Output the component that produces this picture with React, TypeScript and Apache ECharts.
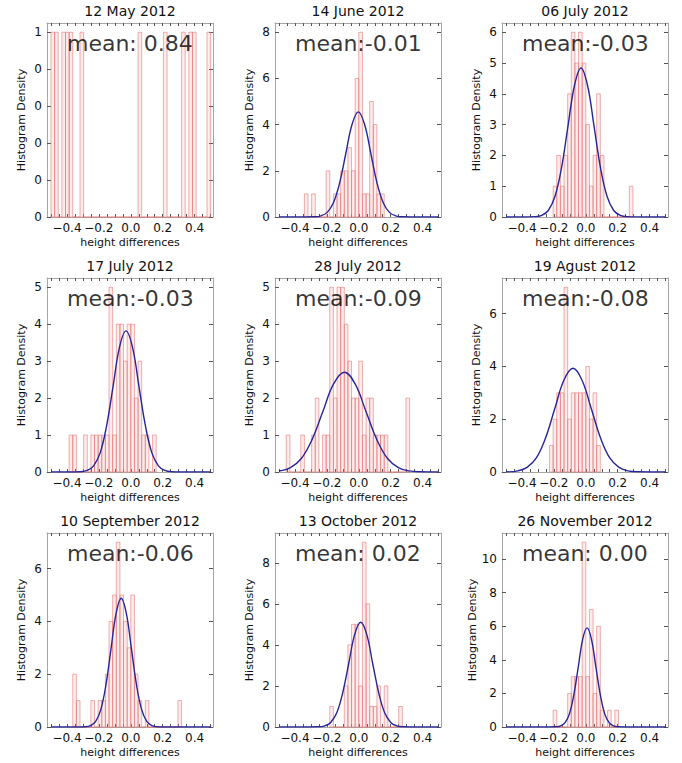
import React, { useEffect, useRef } from "react";
import * as echarts from "echarts";

// ---------------- data ----------------
const panelTitles = [
  "12 May 2012", "14 June 2012", "06 July 2012",
  "17 July 2012", "28 July 2012", "19 Agust 2012",
  "10 September 2012", "13 October 2012", "26 November 2012",
];
const meanTexts = [
  "mean: 0.84", "mean:-0.01", "mean:-0.03",
  "mean:-0.03", "mean:-0.09", "mean:-0.08",
  "mean:-0.06", "mean: 0.02", "mean: 0.00",
];

// histogram bin grid
const binOrigin = -0.5;
const binWidth = 1 / 44;

// first bin index of each histogram, then counts per bin
const firstBins = [0, 7, 13, 5, 2, 12, 6, 14, 13];
const countsMay12 = [1, 1, 0, 1, 1, 1, 0, 0, 1, 0, 0, 0, 0, 0, 0, 0, 0, 0, 0, 0, 0, 0, 0, 0, 1, 0, 0, 0, 0, 0, 0, 1, 0, 0, 0, 0, 1, 0, 1, 1, 0, 0, 0, 1];
const countsJun14 = [1, 0, 1, 0, 0, 0, 2, 0, 1, 1, 2, 2, 3, 2, 6, 8, 1, 1, 5, 4, 1, 1];
const countsJul06 = [1, 2, 1, 2, 4, 6, 5, 6, 5, 3, 1, 2, 4, 2, 0, 0, 0, 0, 0, 0, 0, 1];
const countsJul17 = [1, 1, 0, 0, 1, 0, 1, 1, 1, 1, 1, 5, 1, 4, 4, 3, 4, 4, 2, 3, 1, 1, 0, 1];
const countsJul28 = [1, 0, 0, 0, 1, 0, 0, 1, 2, 0, 1, 1, 5, 2, 5, 5, 4, 3, 2, 2, 3, 1, 2, 2, 1, 1, 1, 1, 0, 0, 0, 0, 0, 2];
const countsAug19 = [1, 2, 3, 3, 7, 2, 3, 3, 3, 3, 4, 2, 3, 1];
const countsSep10 = [2, 1, 0, 0, 0, 1, 0, 1, 1, 2, 4, 5, 7, 5, 4, 3, 5, 2, 1, 0, 1, 0, 0, 0, 0, 0, 0, 0, 0, 1];
const countsOct13 = [1, 0, 0, 0, 2, 4, 5, 5, 2, 9, 6, 1, 1, 2, 0, 2, 0, 0, 0, 1];
const countsNov26 = [1, 0, 0, 0, 2, 3, 3, 3, 11, 3, 7, 2, 6, 1, 0, 1, 0, 1];
const allCounts = [countsMay12, countsJun14, countsJul06, countsJul17, countsJul28, countsAug19, countsSep10, countsOct13, countsNov26];

// fitted curves, points [x, y]
const curveMay12: number[][] = [];
const curveJun14 = [[-0.5, 0], [-0.4, 0], [-0.276, 0.01], [-0.237, 0.051], [-0.198, 0.2], [-0.159, 0.616], [-0.12, 1.477], [-0.081, 2.76], [-0.042, 4.015], [-0.003, 4.55], [0.036, 4.015], [0.075, 2.76], [0.114, 1.477], [0.153, 0.616], [0.192, 0.2], [0.231, 0.051], [0.27, 0.01], [0.4, 0], [0.5, 0]];
const curveJul06 = [[-0.5, 0], [-0.4, 0], [-0.317, 0.011], [-0.276, 0.054], [-0.235, 0.212], [-0.194, 0.655], [-0.153, 1.572], [-0.112, 2.935], [-0.071, 4.271], [-0.03, 4.84], [0.011, 4.271], [0.052, 2.935], [0.093, 1.572], [0.134, 0.655], [0.175, 0.212], [0.216, 0.054], [0.257, 0.011], [0.4, 0], [0.5, 0]];
const curveJul17 = [[-0.5, 0], [-0.4, 0], [-0.314, 0.008], [-0.273, 0.042], [-0.233, 0.168], [-0.192, 0.517], [-0.152, 1.24], [-0.111, 2.317], [-0.071, 3.371], [-0.03, 3.82], [0.011, 3.371], [0.051, 2.317], [0.092, 1.24], [0.132, 0.517], [0.173, 0.168], [0.213, 0.042], [0.254, 0.008], [0.4, 0], [0.5, 0]];
const curveJul28 = [[-0.5, 0.027], [-0.428, 0.119], [-0.36, 0.365], [-0.293, 0.877], [-0.225, 1.638], [-0.158, 2.383], [-0.09, 2.7], [-0.023, 2.383], [0.045, 1.638], [0.113, 0.877], [0.18, 0.365], [0.248, 0.119], [0.315, 0.03], [0.383, 0.006], [0.5, 0]];
const curveAug19 = [[-0.5, 0.005], [-0.425, 0.044], [-0.368, 0.173], [-0.31, 0.532], [-0.253, 1.276], [-0.195, 2.384], [-0.138, 3.468], [-0.08, 3.93], [-0.023, 3.468], [0.035, 2.384], [0.093, 1.276], [0.15, 0.532], [0.208, 0.173], [0.265, 0.044], [0.323, 0.009], [0.5, 0]];
const curveSep10 = [[-0.5, 0], [-0.4, 0], [-0.284, 0.011], [-0.252, 0.054], [-0.22, 0.214], [-0.188, 0.66], [-0.156, 1.585], [-0.124, 2.96], [-0.092, 4.307], [-0.06, 4.88], [-0.028, 4.307], [0.004, 2.96], [0.036, 1.585], [0.068, 0.66], [0.1, 0.214], [0.132, 0.054], [0.164, 0.011], [0.3, 0], [0.5, 0]];
const curveOct13 = [[-0.5, 0], [-0.4, 0], [-0.251, 0.011], [-0.213, 0.057], [-0.176, 0.224], [-0.138, 0.69], [-0.101, 1.656], [-0.063, 3.093], [-0.026, 4.501], [0.012, 5.1], [0.05, 4.501], [0.087, 3.093], [0.125, 1.656], [0.162, 0.69], [0.2, 0.224], [0.237, 0.057], [0.275, 0.011], [0.4, 0], [0.5, 0]];
const curveNov26 = [[-0.5, 0], [-0.3, 0], [-0.185, 0.013], [-0.157, 0.065], [-0.13, 0.259], [-0.102, 0.798], [-0.075, 1.916], [-0.047, 3.578], [-0.02, 5.207], [0.008, 5.9], [0.036, 5.207], [0.063, 3.578], [0.091, 1.916], [0.118, 0.798], [0.146, 0.259], [0.173, 0.065], [0.201, 0.013], [0.3, 0], [0.5, 0]];
const allCurves = [curveMay12, curveJun14, curveJul06, curveJul17, curveJul28, curveAug19, curveSep10, curveOct13, curveNov26];

// axis ticks
const xTickLabels = [-0.4, -0.2, 0, 0.2, 0.4];
const xTickMarks = [-0.5, -0.45, -0.4, -0.35, -0.3, -0.25, -0.2, -0.15, -0.1, -0.05, 0, 0.05, 0.1, 0.15, 0.2, 0.25, 0.3, 0.35, 0.4, 0.45, 0.5];
const yTickSteps = [0.2, 2, 1, 1, 1, 2, 2, 2, 2];
const meanLabelX = -0.4;

// ---------------- layout ----------------
const X_MIN = -0.525;
const X_MAX = 0.515;
const colLeft = [47, 275, 502];
const rowTop = [23, 278, 533];
const plotW = 166;
const plotH = 194;
const FONT = "DejaVu Sans";

const fmtX = (v: number) => (v < -1e-9 ? "\u2212" : "") + Math.abs(v).toFixed(1);

function buildOption() {
  const grids: any[] = [];
  const xAxes: any[] = [];
  const yAxes: any[] = [];
  const series: any[] = [];
  const graphics: any[] = [];

  for (let i = 0; i < 9; i++) {
    const r = Math.floor(i / 3);
    const c = i % 3;
    const counts = allCounts[i];
    const maxCount = Math.max(...counts);
    const yMax = maxCount * 1.05;
    const step = yTickSteps[i];
    const yTicks: number[] = [];
    for (let v = 0; v <= maxCount + 1e-9; v += step) yTicks.push(Math.round(v * 1000) / 1000);

    grids.push({ left: colLeft[c], top: rowTop[r], width: plotW, height: plotH, containLabel: false });

    const frameLine = { show: true, onZero: false, lineStyle: { color: "#a6a6a6", width: 1 } };
    const tickStyle = { color: "#555", width: 1 };

    xAxes.push({
      type: "value", gridIndex: i, min: X_MIN, max: X_MAX, position: "bottom",
      axisLine: frameLine,
      axisTick: { show: true, inside: true, length: 3, customValues: xTickMarks, lineStyle: tickStyle },
      axisLabel: { show: true, customValues: xTickLabels, formatter: fmtX, fontSize: 12, color: "#111", margin: 5, fontFamily: FONT },
      splitLine: { show: false },
      name: "height differences", nameLocation: "middle", nameGap: 20,
      nameTextStyle: { fontSize: 11, color: "#111", fontFamily: FONT },
    });
    xAxes.push({
      type: "value", gridIndex: i, min: X_MIN, max: X_MAX, position: "top",
      axisLine: frameLine,
      axisTick: { show: true, inside: true, length: 3, customValues: xTickMarks, lineStyle: tickStyle },
      axisLabel: { show: false },
      splitLine: { show: false },
    });
    yAxes.push({
      type: "value", gridIndex: i, min: 0, max: yMax, position: "left",
      axisLine: frameLine,
      axisTick: { show: true, inside: true, length: 4, customValues: yTicks, lineStyle: tickStyle },
      axisLabel: {
        show: true, customValues: yTicks, fontSize: 12, color: "#111", margin: 5, fontFamily: FONT,
        formatter: (v: number) => String(Math.floor(v + 1e-9)),
      },
      splitLine: { show: false },
      name: "Histogram Density", nameLocation: "middle", nameGap: 20, nameRotate: 90,
      nameTextStyle: { fontSize: 11, color: "#111", fontFamily: FONT },
    });
    yAxes.push({
      type: "value", gridIndex: i, min: 0, max: yMax, position: "right",
      axisLine: frameLine,
      axisTick: { show: true, inside: true, length: 4, customValues: yTicks, lineStyle: tickStyle },
      axisLabel: { show: false },
      splitLine: { show: false },
    });

    const histData = counts.map((cnt, j) => {
      const k = firstBins[i] + j;
      return [binOrigin + k * binWidth, binOrigin + (k + 1) * binWidth, cnt];
    });

    series.push({
      type: "custom",
      xAxisIndex: 2 * i,
      yAxisIndex: 2 * i,
      encode: { x: [0, 1], y: 2 },
      data: histData,
      silent: true,
      z: 2,
      renderItem: (_params: any, api: any) => {
        const p0 = api.coord([api.value(0), 0]);
        const p1 = api.coord([api.value(1), api.value(2)]);
        return {
          type: "rect",
          shape: { x: p0[0], y: p1[1], width: p1[0] - p0[0], height: p0[1] - p1[1] },
          style: { fill: "rgba(244, 120, 120, 0.14)", stroke: "rgba(232, 110, 110, 0.55)", lineWidth: 1 },
        };
      },
    });

    if (allCurves[i].length) {
      series.push({
        type: "line",
        xAxisIndex: 2 * i,
        yAxisIndex: 2 * i,
        data: allCurves[i],
        smooth: 0.4,
        showSymbol: false,
        silent: true,
        z: 3,
        lineStyle: { color: "#26269a", width: 1.4 },
      });
    }

    series.push({
      type: "scatter",
      xAxisIndex: 2 * i,
      yAxisIndex: 2 * i,
      data: [[meanLabelX, maxCount]],
      symbolSize: 0,
      silent: true,
      z: 5,
      label: {
        show: true,
        formatter: meanTexts[i],
        position: [0, 0],
        align: "left",
        verticalAlign: "top",
        fontSize: 22,
        color: "#000",
        fontFamily: FONT,
      },
    });

    graphics.push({
      type: "text",
      x: colLeft[c] + plotW / 2,
      y: rowTop[r] - 12,
      style: {
        text: panelTitles[i],
        align: "center",
        verticalAlign: "middle",
        font: `14px "${FONT}"`,
        fill: "#111",
      },
    });
  }

  return {
    animation: false,
    backgroundColor: "#ffffff",
    textStyle: { fontFamily: FONT },
    grid: grids,
    xAxis: xAxes,
    yAxis: yAxes,
    series,
    graphic: graphics,
  };
}

export default function App() {
  const ref = useRef<HTMLDivElement>(null);
  useEffect(() => {
    if (!ref.current) return;
    const chart = echarts.init(ref.current, undefined, { renderer: "svg" });
    chart.setOption(buildOption() as any);
    return () => chart.dispose();
  }, []);
  return (
    <div
      ref={ref}
      style={{ position: "fixed", left: 0, top: 0, width: 682, height: 763, background: "#fff" }}
    />
  );
}
